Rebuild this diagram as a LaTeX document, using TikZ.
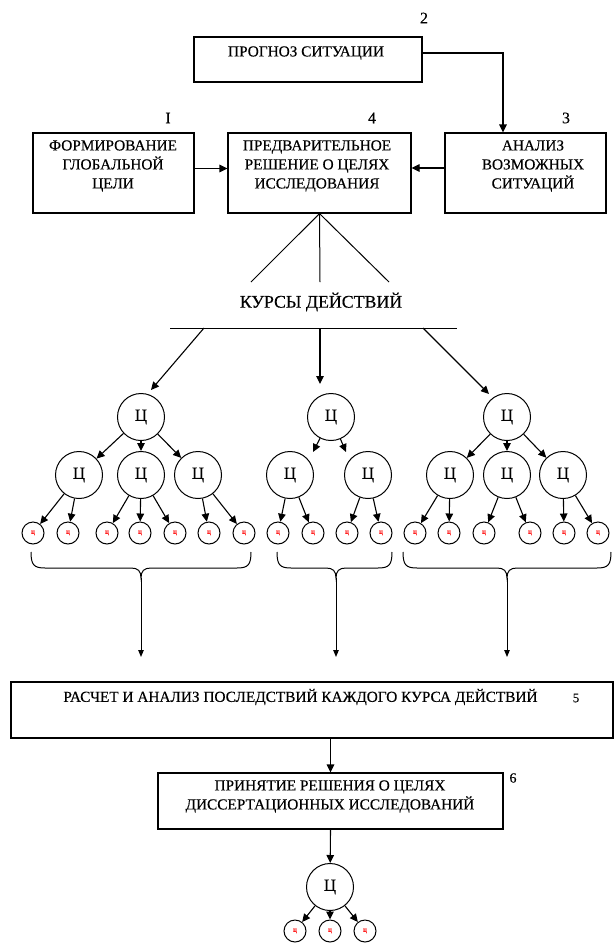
\documentclass[tikz,border=0pt]{standalone}
\usepackage{fontspec}
\setmainfont{Liberation Serif}[FakeBold=0.35]
\usetikzlibrary{arrows.meta}
\newcommand\mybraceX[3]{%
 \draw[line width=1pt] (#1,552) .. controls (#1,565) and ({#1+3},568) .. ({#1+14},568) -- ({#2-10},568) .. controls ({#2-3},568) and (#2,571) .. (#2,578) .. controls (#2,571) and ({#2+3},568) .. ({#2+10},568) -- ({#3-14},568) .. controls ({#3-3},568) and (#3,565) .. (#3,552);}
\begin{document}
\begin{tikzpicture}[x=1pt,y=-1pt,
  box/.style={draw,line width=1.1pt,inner sep=0pt},
  txt/.style={align=center,font=\fontsize{15.3}{19}\selectfont,inner sep=0pt},
  lbl/.style={font=\fontsize{16}{18}\selectfont,inner sep=0pt},
  arr/.style={line width=1.1pt,-{Triangle[length=8pt,width=7.5pt]}},
  sarr/.style={line width=1pt,-{Triangle[length=7pt,width=5.5pt]}},
  ln/.style={line width=1pt},
  bigc/.style={draw,circle,line width=1pt,minimum size=47pt,inner sep=0pt,font=\fontsize{17}{17}\selectfont},
  smc/.style={draw,circle,line width=1pt,minimum size=22pt,inner sep=0pt,text=red,font=\fontsize{7}{7}\selectfont},
]
\useasboundingbox (0,0) rectangle (614,943);

% top boxes
\node[box,minimum width=228pt,minimum height=45pt] (b2) at (308,59.5) {};
\node[txt] (t2) at (306,53) {ПРОГНОЗ СИТУАЦИИ};
\node[box,minimum width=161pt,minimum height=80pt] (b1) at (113.5,173) {};
\node[txt] (t1) at (113,166) {ФОРМИРОВАНИЕ\\ГЛОБАЛЬНОЙ\\ЦЕЛИ};
\node[box,minimum width=183pt,minimum height=80pt] (b4) at (319.5,173) {};
\node[txt] (t4) at (317,166) {ПРЕДВАРИТЕЛЬНОЕ\\РЕШЕНИЕ О ЦЕЛЯХ\\ИССЛЕДОВАНИЯ};
\node[box,minimum width=161pt,minimum height=80pt] (b3) at (525.5,173) {};
\node[txt] (t3) at (533,166) {АНАЛИЗ\\ВОЗМОЖНЫХ\\СИТУАЦИЙ};

\node[lbl] (l2) at (424,18) {2};
\node[lbl] (l1) at (168,118) {I};
\node[lbl] (l4) at (372,118) {4};
\node[lbl] (l3) at (566,118) {3};

\draw[arr] ([yshift=6.5pt]b2.east) -| ([xshift=-22.5pt]b3.north);
\draw[arr] ([yshift=4.5pt]b1.east) -- ([yshift=4.5pt]b1.east -| b4.west);
\draw[arr] ([yshift=5pt]b3.west) -- ([yshift=5pt]b3.west -| b4.east);

% courses
\coordinate (kl) at (251,282);
\coordinate (km) at (320,282);
\coordinate (kr) at (389,282);
\draw[ln] (b4.south) -- (kl);
\draw[ln] (b4.south) -- (km);
\draw[ln] (b4.south) -- (kr);
\node[inner sep=0pt,font=\fontsize{17.8}{18}\selectfont] (tk) at (321,302) {КУРСЫ ДЕЙСТВИЙ};
\coordinate (hl) at (170,328);
\coordinate (hr) at (457,328);
\draw[ln] (hl) -- (hr);
\coordinate (a1s) at (204,328); \coordinate (a1e) at (151,390);
\coordinate (a2s) at (320,328); \coordinate (a2e) at (320,384);
\coordinate (a3s) at (423,328); \coordinate (a3e) at (489,394);
\draw[arr] (a1s) -- (a1e);
\draw[arr] (a2s) -- (a2e);
\draw[arr] (a3s) -- (a3e);

% tree 1
\node[bigc] (r1) at (141,417) {Ц};
\node[bigc] (m11) at (79,475) {Ц};
\node[bigc] (m12) at (141,475) {Ц};
\node[bigc] (m13) at (198,475) {Ц};
\foreach \n/\x in {s1/33,s2/68,s3/107,s4/140,s5/175,s6/209,s7/244,s8/278,s9/313,s10/347,s11/381,s12/415,s13/449,s14/484,s15/530,s16/564,s17/598}
  \node[smc] (\n) at (\x,533) {ц};
\draw[arr] (r1) -- (m11);
\draw[arr] (r1) -- (m12);
\draw[arr] (r1) -- (m13);
\draw[arr] (m11) -- (s1);
\draw[arr] (m11) -- (s2);
\draw[arr] (m12) -- (s3);
\draw[arr] (m12) -- (s4);
\draw[arr] (m12) -- (s5);
\draw[arr] (m13) -- (s6);
\draw[arr] (m13) -- (s7);

% tree 2
\node[bigc] (r2) at (331,417) {Ц};
\node[bigc] (m21) at (290,475) {Ц};
\node[bigc] (m22) at (368,475) {Ц};
\coordinate (t2l) at (313,452);
\coordinate (t2r) at (346,452);
\draw[arr] (r2) -- (t2l);
\draw[arr] (r2) -- (t2r);
\draw[arr] (m21) -- (s8);
\draw[arr] (m21) -- (s9);
\draw[arr] (m22) -- (s10);
\draw[arr] (m22) -- (s11);

% tree 3
\node[bigc] (r3) at (507,417) {Ц};
\node[bigc] (m31) at (450,475) {Ц};
\node[bigc] (m32) at (507,475) {Ц};
\node[bigc] (m33) at (563,475) {Ц};
\draw[arr] (r3) -- (m31);
\draw[arr] (r3) -- (m32);
\draw[arr] (r3) -- (m33);
\draw[arr] (m31) -- (s12);
\draw[arr] (m31) -- (s13);
\draw[arr] (m32) -- (s14);
\draw[arr] (m32) -- (s15);
\draw[arr] (m33) -- (s16);
\draw[arr] (m33) -- (s17);

% braces
\mybraceX{31}{141}{251}
\mybraceX{277}{336}{392}
\mybraceX{403}{507}{611}
\coordinate (bt1) at (141,578); \coordinate (be1) at (141,657);
\coordinate (bt2) at (336,578); \coordinate (be2) at (336,657);
\coordinate (bt3) at (507,578); \coordinate (be3) at (507,657);
\draw[sarr] (bt1) -- (be1);
\draw[sarr] (bt2) -- (be2);
\draw[sarr] (bt3) -- (be3);

% box 5
\node[box,minimum width=602pt,minimum height=56pt] (b5) at (312,710) {};
\node[txt] (t5) at (300.5,697) {РАСЧЕТ И АНАЛИЗ ПОСЛЕДСТВИЙ КАЖДОГО КУРСА ДЕЙСТВИЙ};
\node[inner sep=0pt,font=\fontsize{13}{13}\selectfont] (l5) at (576,698) {5};

% box 6
\node[box,minimum width=345pt,minimum height=56pt] (b6) at (330.5,801) {};
\node[txt] (t6) at (330,796.5) {ПРИНЯТИЕ РЕШЕНИЯ О ЦЕЛЯХ\\ДИССЕРТАЦИОННЫХ ИССЛЕДОВАНИЙ};
\node[inner sep=0pt,font=\fontsize{14}{14}\selectfont] (l6) at (513,778) {6};
\draw[arr] (b6.north |- b5.south) -- (b6.north);

% final tree
\node[bigc] (fc) at (330,887) {Ц};
\draw[arr] (b6.south) -- (fc);
\node[smc] (f1) at (295,931) {ц};
\node[smc] (f2) at (330,931) {ц};
\node[smc] (f3) at (365,931) {ц};
\draw[arr] (fc) -- (f1);
\draw[arr] (fc) -- (f2);
\draw[arr] (fc) -- (f3);
\end{tikzpicture}
\end{document}
